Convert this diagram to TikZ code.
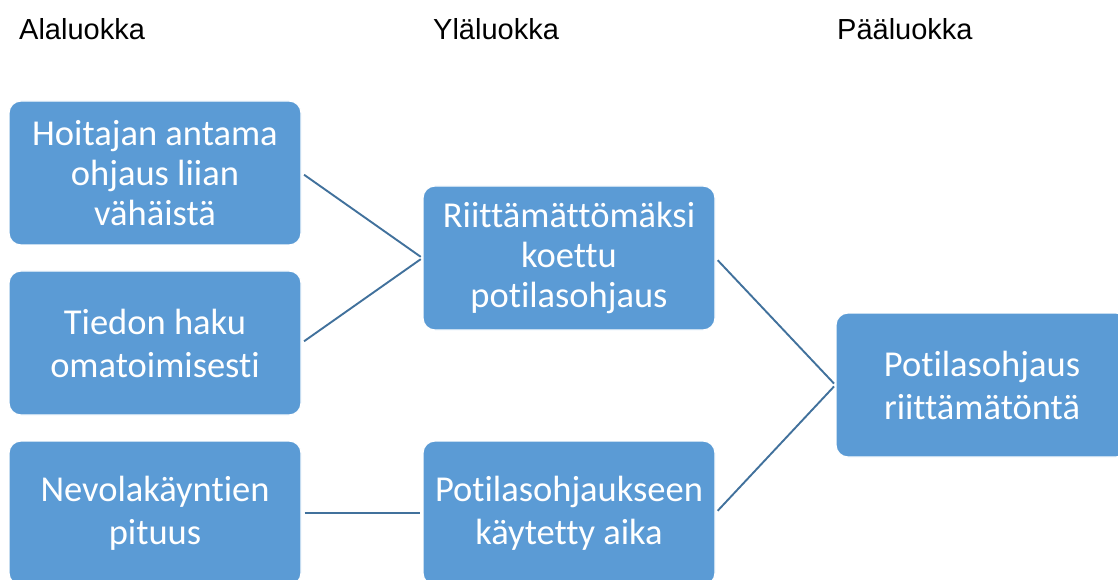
\documentclass[tikz,border=0pt]{standalone}
\usepackage{fontspec}
\setmainfont{Carlito}[RawFeature={-liga}]
\newfontfamily\headfont{Liberation Sans}
\begin{document}
\begin{tikzpicture}[x=1pt,y=1pt,
  catbox/.style={draw=white, line width=1.2pt, fill={rgb,255:red,91;green,155;blue,213},
    rounded corners=12pt, minimum width=292pt, minimum height=144pt, inner sep=0pt,
    text=white, align=center, font=\fontsize{36.5}{40}\selectfont},
  twoline/.style={font=\fontsize{36.5}{43}\selectfont},
  link/.style={draw={rgb,255:red,65;green,113;blue,156}, line width=1.9pt, shorten <=3pt, shorten >=2pt},
  head/.style={anchor=base west, inner sep=0pt, font=\headfont\fontsize{29}{33}\selectfont}]
\useasboundingbox (0,0) rectangle (1118,579);
\clip (0,0) rectangle (1118,579);
\node[head] (h1) at (19,539) {Alaluokka};
\node[head] (h2) at (433,539) {Yläluokka};
\node[head] (h3) at (837,539) {Pääluokka};
\node[catbox] (a) at (155,406) {Hoitajan antama\\ohjaus liian\\vähäistä};
\node[catbox,twoline] (b) at (155,236) {Tiedon haku\\omatoimisesti};
\node[catbox,twoline] (c) at (155,66) {Nevolakäyntien\\pituus};
\node[catbox] (d) at (569,321) {Riittämättömäksi\\koettu\\potilasohjaus};
\node[catbox,twoline] (e) at (569,66) {Potilasohjaukseen\\käytetty aika};
\node[catbox,twoline] (f) at (982,194) {Potilasohjaus\\riittämätöntä};
\draw[link] (a.east) -- (d.west);
\draw[link] (b.east) -- (d.west);
\draw[link] (c.east) -- (e.west);
\draw[link] (d.east) -- (f.west);
\draw[link] (e.east) -- (f.west);
\end{tikzpicture}
\end{document}
